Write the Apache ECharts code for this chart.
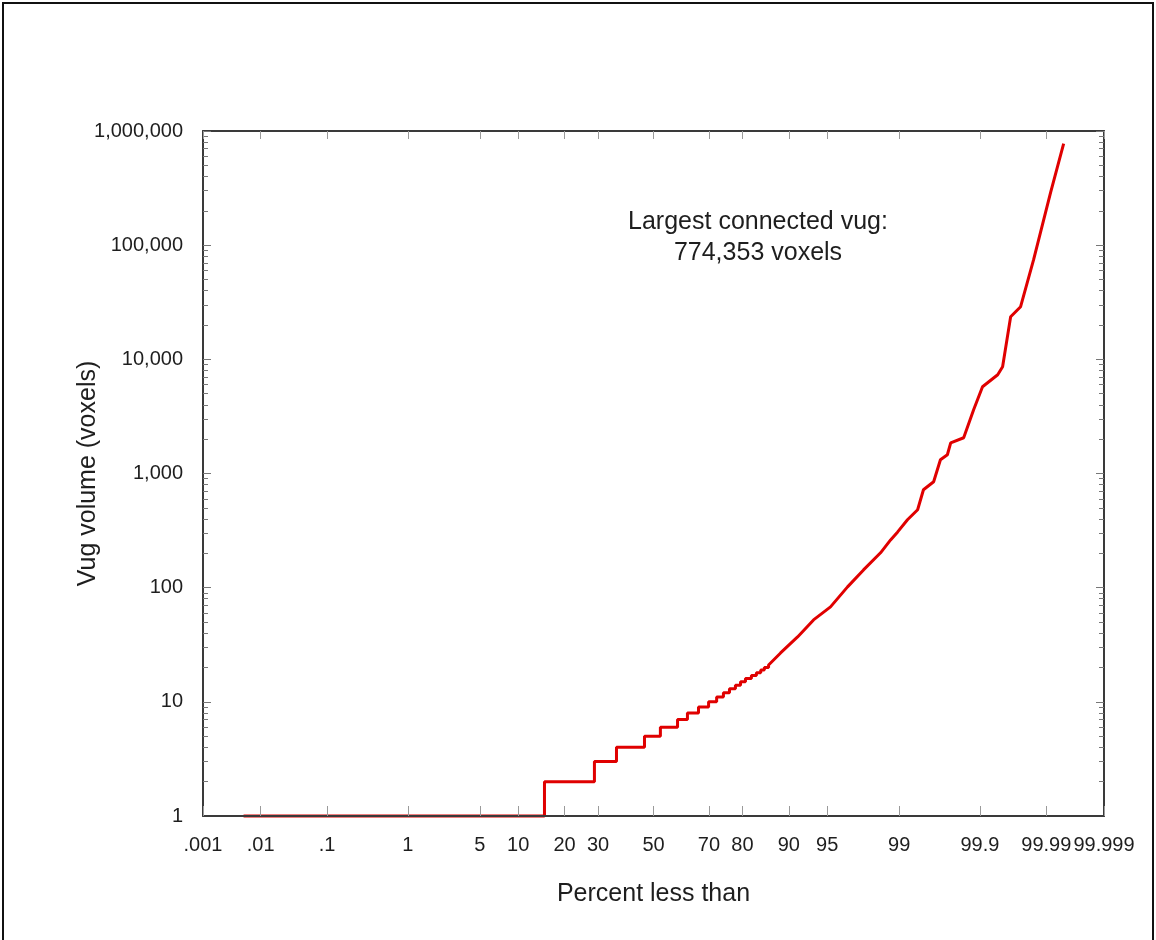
<!DOCTYPE html>
<html>
<head>
<meta charset="utf-8">
<title>Vug volume probability plot</title>
<script src="https://cdn.jsdelivr.net/npm/echarts@6/dist/echarts.min.js"></script>
<style>
  html, body { margin: 0; padding: 0; background: #fff; }
  #chart { width: 1156px; height: 940px; }
</style>
</head>
<body>
<div id="chart"></div>
<script>
// Probability-axis ticks (percent less than) and their printed labels
const probTicks = [0.001, 0.01, 0.1, 1, 5, 10, 20, 30, 50, 70, 80, 90, 95, 99, 99.9, 99.99, 99.999];
const probTickLabels = ['.001', '.01', '.1', '1', '5', '10', '20', '30', '50', '70', '80', '90', '95', '99', '99.9', '99.99', '99.999'];

// Volume axis decades
const volumeTicks = [1, 10, 100, 1000, 10000, 100000, 1000000];

// Small vugs come in whole-voxel sizes: each level and the percent where it begins
const levelVolumes  = [1, 2, 3, 4, 5, 6, 7, 8, 9, 10, 11, 12, 13, 14, 15, 16, 17, 18, 19, 20];
const levelStartPct = [0.0052, 15.1, 28.8, 36.3, 46.6, 52.6, 59.0, 62.6, 66.5, 69.9,
                       72.5, 74.6, 76.4, 78.1, 79.5, 80.8, 82.3, 83.5, 84.5, 85.3];

// Larger vugs: cumulative percent and volume
const tailPct    = [86.2, 88.55, 91.37, 93.51, 95.31, 96.69, 97.66, 98.42, 98.76, 98.96,
                    99.19, 99.38, 99.47, 99.60, 99.67, 99.73, 99.755, 99.834, 99.878, 99.908,
                    99.944, 99.9525, 99.9639, 99.9745, 99.984, 99.99147, 99.99484];
const tailVolume = [21, 26.8, 37, 52.2, 67.9, 101.6, 143, 202, 262, 308,
                    393, 481, 720, 846, 1318, 1459, 1858, 2056, 3616, 5750,
                    7330, 8610, 23600, 28900, 74600, 288000, 774353];

// Inverse standard normal CDF (Acklam's rational approximation)
function normInv(p) {
  const a = [-3.969683028665376e+01, 2.209460984245205e+02, -2.759285104469687e+02, 1.383577518672690e+02, -3.066479806614716e+01, 2.506628277459239e+00];
  const b = [-5.447609879822406e+01, 1.615858368580409e+02, -1.556989798598866e+02, 6.680131188771972e+01, -1.328068155288572e+01];
  const c = [-7.784894002430293e-03, -3.223964580411365e-01, -2.400758277161838e+00, -2.549671010329529e+00, 4.374664141464968e+00, 2.938163982698783e+00];
  const d = [7.784695709041462e-03, 3.224671290700398e-01, 2.445134137142996e+00, 3.754408661907416e+00];
  const pl = 0.02425, ph = 1 - pl;
  let q, r;
  if (p < pl) {
    q = Math.sqrt(-2 * Math.log(p));
    return (((((c[0]*q+c[1])*q+c[2])*q+c[3])*q+c[4])*q+c[5]) / ((((d[0]*q+d[1])*q+d[2])*q+d[3])*q+1);
  }
  if (p <= ph) {
    q = p - 0.5; r = q * q;
    return (((((a[0]*r+a[1])*r+a[2])*r+a[3])*r+a[4])*r+a[5])*q / (((((b[0]*r+b[1])*r+b[2])*r+b[3])*r+b[4])*r+1);
  }
  q = Math.sqrt(-2 * Math.log(1 - p));
  return -(((((c[0]*q+c[1])*q+c[2])*q+c[3])*q+c[4])*q+c[5]) / ((((d[0]*q+d[1])*q+d[2])*q+d[3])*q+1);
}
// percent -> position on the normal-probability axis
const pz = pct => normInv(pct / 100);

const tickZ = probTicks.map(pz);
const xMin = tickZ[0], xMax = tickZ[tickZ.length - 1];

// Log minor ticks (2..9 in every decade)
const minorVolumeTicks = [];
for (let i = 0; i < volumeTicks.length - 1; i++) {
  for (let m = 2; m <= 9; m++) minorVolumeTicks.push(m * volumeTicks[i]);
}

// Build the curve: stairs for the small sizes, then the continuous tail
const curve = [];
for (let i = 0; i < levelVolumes.length; i++) {
  const endPct = i + 1 < levelStartPct.length ? levelStartPct[i + 1] : tailPct[0];
  curve.push([pz(levelStartPct[i]), levelVolumes[i]]);
  curve.push([pz(endPct), levelVolumes[i]]);
}
for (let i = 0; i < tailPct.length; i++) curve.push([pz(tailPct[i]), tailVolume[i]]);

const FONT = '"Liberation Sans", Arial, sans-serif';
const TEXT = '#1e1e1e';
const AXIS = '#3a3a3a';

function probLabel(v) {
  for (let i = 0; i < tickZ.length; i++) if (Math.abs(tickZ[i] - v) < 1e-6) return probTickLabels[i];
  return '';
}

const chart = echarts.init(document.getElementById('chart'), null, { renderer: 'canvas' });

const yBase = { type: 'log', logBase: 10, min: 1, max: 1000000, splitLine: { show: false } };
const edgeLine = { show: true, onZero: false, lineStyle: { color: AXIS, width: 2 } };

chart.setOption({
  backgroundColor: '#fff',
  animation: false,
  grid: { left: 203, right: 52, top: 131, bottom: 124, containLabel: false },
  xAxis: [
    {
      type: 'value', min: xMin, max: xMax, position: 'bottom', z: 10,
      name: 'Percent less than', nameLocation: 'middle', nameGap: 66,
      nameTextStyle: { fontFamily: FONT, fontSize: 25, color: TEXT },
      axisLine: edgeLine,
      axisTick: { show: true, inside: true, length: 10, customValues: tickZ, lineStyle: { color: '#9a9a9a', width: 1 } },
      axisLabel: { show: true, customValues: tickZ, margin: 19, fontFamily: FONT, fontSize: 20, color: TEXT, formatter: probLabel },
      splitLine: { show: false }
    },
    {
      type: 'value', min: xMin, max: xMax, position: 'top',
      axisLine: edgeLine,
      axisTick: { show: true, inside: true, length: 8, customValues: tickZ, lineStyle: { color: '#9a9a9a', width: 1 } },
      axisLabel: { show: false },
      splitLine: { show: false }
    }
  ],
  yAxis: [
    Object.assign({}, yBase, {
      position: 'left',
      name: 'Vug volume (voxels)', nameLocation: 'middle', nameGap: 102, nameRotate: 90,
      nameMoveOverlap: false,
      nameTextStyle: { fontFamily: FONT, fontSize: 25, color: TEXT },
      axisLine: edgeLine,
      axisTick: { show: true, inside: true, length: 8, customValues: volumeTicks, lineStyle: { color: '#777', width: 1 } },
      axisLabel: { show: true, customValues: volumeTicks, margin: 20, fontFamily: FONT, fontSize: 20, color: TEXT,
                   formatter: v => Math.round(v).toLocaleString('en-US') }
    }),
    Object.assign({}, yBase, {
      position: 'left',
      axisLine: { show: false, onZero: false },
      axisTick: { show: true, inside: true, length: 5, customValues: minorVolumeTicks, lineStyle: { color: '#777', width: 1 } },
      axisLabel: { show: false }
    }),
    Object.assign({}, yBase, {
      position: 'right',
      axisLine: edgeLine,
      axisTick: { show: true, inside: true, length: 8, customValues: volumeTicks, lineStyle: { color: '#777', width: 1 } },
      axisLabel: { show: false }
    }),
    Object.assign({}, yBase, {
      position: 'right',
      axisLine: { show: false, onZero: false },
      axisTick: { show: true, inside: true, length: 5, customValues: minorVolumeTicks, lineStyle: { color: '#777', width: 1 } },
      axisLabel: { show: false }
    })
  ],
  series: [{
    type: 'line',
    xAxisIndex: 0,
    yAxisIndex: 0,
    data: curve,
    showSymbol: false,
    clip: false,
    lineStyle: { color: '#e00000', width: 3 },
    z: 2
  }],
  graphic: [
    {
      type: 'rect', silent: true, z: 100,
      shape: { x: 3, y: 3, width: 1150, height: 960 },
      style: { fill: 'none', stroke: '#111', lineWidth: 2 }
    },
    {
      type: 'text', silent: true, z: 100,
      style: {
        text: 'Largest connected vug:\n774,353 voxels',
        x: 758, y: 238,
        textAlign: 'center', textVerticalAlign: 'middle',
        font: '25px ' + FONT, lineHeight: 31, fill: TEXT
      }
    }
  ]
});
</script>
</body>
</html>
